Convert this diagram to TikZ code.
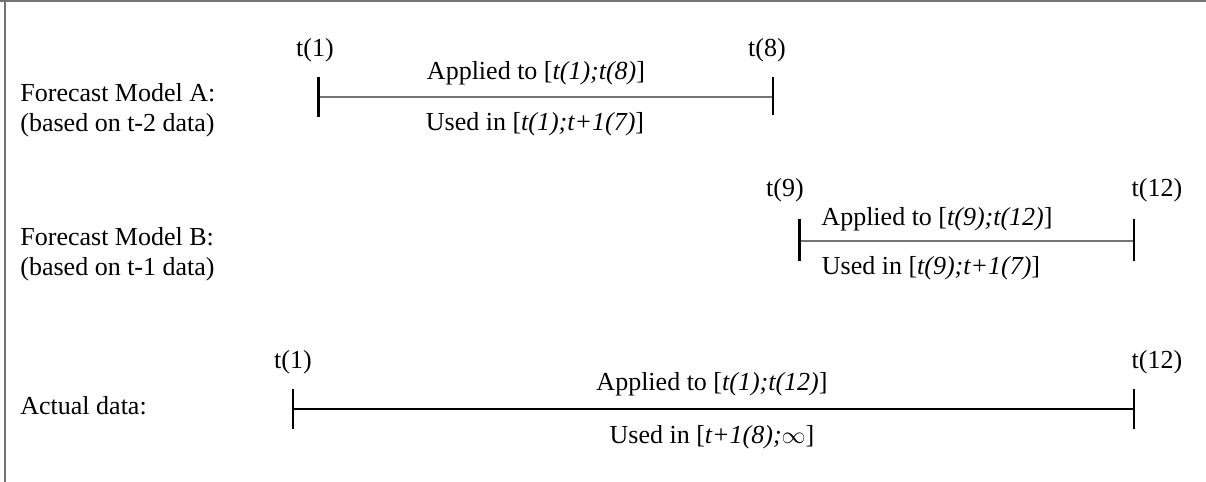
\documentclass[tikz,border=0pt]{standalone}
\usepackage{fontspec}
\setmainfont{Liberation Serif}
\usetikzlibrary{positioning}

\begin{document}
\begin{tikzpicture}[
x=0.5pt, y=-0.5pt,
every node/.style={font=\fontsize{13}{15}\selectfont, inner sep=0pt},
rowlabel/.style={anchor=west, align=left},
span/.style={line width=0.75pt, black!55},
tick/.style={line width=1pt, black},
starttick/.style={line width=1.5pt, black}
]
\useasboundingbox (0,0) rectangle (1206,482);
% frame
\draw[black!55, line width=1pt] (0,0.5) -- (1206,0.5);
\draw[black!55, line width=1pt] (4.5,0) -- (4.5,482);

% row labels
\node[rowlabel] (modela) at (20,110) {Forecast Model A:\\(based on t-2 data)};
\node[rowlabel] (modelb) at (20,254) {Forecast Model B:\\(based on t-1 data)};
\node[rowlabel] (actual) at (20,406) {Actual data:};

% model A
\coordinate (aL) at (318,97);
\coordinate (aR) at (773,97);
\draw[span] (aL) -- (aR);
\draw[starttick] ([yshift=10pt]aL) -- ([yshift=-10pt]aL);
\draw[tick] ([yshift=10pt]aR) -- ([yshift=-9pt]aR);
\node (ta1) at (315,50) {t(1)};
\node (ta8) at (767,50) {t(8)};
\node (appa) at (536,73) {Applied to [\textit{t(1);t(8)}]};
\node (usea) at (535,124) {Used in [\textit{t(1);t+1(7)}]};

% model B
\coordinate (bL) at (799,241);
\coordinate (bR) at (1134,241);
\draw[span] (bL) -- (bR);
\draw[starttick] ([yshift=11pt]bL) -- ([yshift=-10pt]bL);
\draw[tick] ([yshift=11pt]bR) -- ([yshift=-10pt]bR);
\node (tb9) at (785,190) {t(9)};
\node (tb12) at (1157,190) {t(12)};
\node (appb) at (937,219) {Applied to [\textit{t(9);t(12)}]};
\node (useb) at (931,268) {Used in [\textit{t(9);t+1(7)}]};

% actual data
\coordinate (cL) at (293,409);
\coordinate (cR) at (1134,409);
\draw[line width=0.75pt, black] (cL) -- (cR);
\draw[tick] ([yshift=10pt]cL) -- ([yshift=-10pt]cL);
\draw[tick] ([yshift=10pt]cR) -- ([yshift=-10pt]cR);
\node (tc1) at (293,362) {t(1)};
\node (tc12) at (1157,362) {t(12)};
\node (appc) at (712,384) {Applied to [\textit{t(1);t(12)}]};
\node (usec) at (712,437) {Used in [\textit{t+1(8);}$\infty$]};
\end{tikzpicture}
\end{document}
